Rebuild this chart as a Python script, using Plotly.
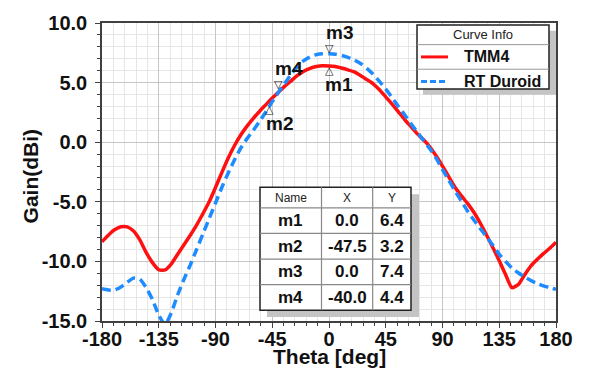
import plotly.graph_objects as go

# ---------------- data ----------------
theta = list(range(-180, 181, 5))

gain_tmm4 = [-8.35, -7.8, -7.35, -7.1, -7.1, -7.45, -8.2, -9.25, -10.1, -10.7,
             -10.72, -10.2, -9.4, -8.6, -7.8, -6.95, -6.0, -5.0, -3.8, -2.55,
             -1.35, -0.3, 0.6, 1.35, 2.0, 2.6, 3.15, 3.7, 4.2, 4.7,
             5.15, 5.6, 5.95, 6.2, 6.35, 6.42, 6.4, 6.35, 6.22, 6.07,
             5.9, 5.6, 5.25, 4.9, 4.4, 3.8, 3.2, 2.55, 1.9, 1.3,
             0.7, 0.2, -0.4, -1.15, -2.0, -2.9, -3.8, -4.5, -5.15, -5.9,
             -6.8, -7.8, -8.85, -9.95, -11.1, -12.2, -11.95, -11.15, -10.4, -9.85,
             -9.35, -8.9, -8.4]

gain_rt = [-12.3, -12.4, -12.4, -12.15, -11.75, -11.4, -11.5, -12.2, -13.2, -14.5,
           -15.3, -14.3, -12.8, -11.5, -10.3, -9.0, -7.7, -6.4, -5.1, -3.8,
           -2.6, -1.5, -0.5, 0.3, 1.0, 1.75, 2.55, 3.4, 4.2, 4.95,
           5.7, 6.35, 6.85, 7.15, 7.35, 7.42, 7.42, 7.38, 7.28, 7.12,
           6.9, 6.6, 6.2, 5.7, 5.1, 4.45, 3.75, 3.0, 2.3, 1.55,
           0.85, 0.15, -0.55, -1.35, -2.3, -3.2, -4.1, -4.95, -5.8, -6.55,
           -7.25, -7.95, -8.65, -9.4, -10.0, -10.55, -10.95, -11.3, -11.6, -11.85,
           -12.05, -12.2, -12.35]

series_names = ["TMM4", "RT Duroid"]
series_colors = ["#ff1010", "#1e8cff"]

marker_names = ["m1", "m2", "m3", "m4"]
marker_x = [0.0, -47.5, 0.0, -40.0]
marker_y = [6.4, 3.2, 7.4, 4.4]
marker_up = [True, True, False, False]   # triangle orientation / label placement

x_tickvals = [-180, -135, -90, -45, 0, 45, 90, 135, 180]
x_ticktext = ["-180", "-135", "-90", "-45", "0", "45", "90", "135", "180"]
y_tickvals = [-15, -10, -5, 0, 5, 10]
y_ticktext = ["-15.0", "-10.0", "-5.0", "0.0", "5.0", "10.0"]

table_header = ["Name", "X", "Y"]

# ---------------- layout helpers (pixel -> paper) ----------------
L, R, T, B = 102, 556, 18, 321
W, H = R - L, B - T


def px(x):
    return (x - L) / W


def py(y):
    return (B - y) / H


FONT = "Arial, 'Liberation Sans', sans-serif"


def note(x, y, text, size, bold=False, color="#111", xanchor="center", **kw):
    d = dict(x=x, y=y, xref=kw.pop("xref", "paper"), yref=kw.pop("yref", "paper"),
             showarrow=False, text=text, xanchor=xanchor, yanchor="middle",
             font=dict(family=kw.pop("family", FONT), size=size, color=color,
                       weight="bold" if bold else "normal"))
    d.update(kw)
    return d


fig = go.Figure()
fig.add_trace(go.Scatter(x=theta, y=gain_tmm4, name=series_names[0], mode="lines",
                         line=dict(color=series_colors[0], width=3.5, shape="spline", smoothing=0.6),
                         showlegend=False))
fig.add_trace(go.Scatter(x=theta, y=gain_rt, name=series_names[1], mode="lines",
                         line=dict(color=series_colors[1], width=3.5, dash="9px,5px",
                                   shape="spline", smoothing=0.6),
                         showlegend=False))

shapes = []
annotations = []

# marker triangles and labels
for n, mx, my, up in zip(marker_names, marker_x, marker_y, marker_up):
    annotations.append(note(mx, my, "△" if up else "▽", 11, color="#222", xref="x", yref="y",
                            family="DejaVu Sans", yshift=-5 if up else 5))
    annotations.append(note(mx, my, n, 19, bold=True, xref="x", yref="y",
                            xshift=10, yshift=-19 if up else 21))

# ---- legend box ("Curve Info") ----
shapes.append(dict(type="rect", xref="paper", yref="paper", x0=px(423), x1=px(556),
                   y0=py(91), y1=py(26), fillcolor="#c4c4c4", line=dict(width=0)))
shapes.append(dict(type="rect", xref="paper", yref="paper", x0=px(417), x1=px(549),
                   y0=py(85), y1=py(20), fillcolor="white", line=dict(color="#222", width=1.5)))
for yy in (40, 65):
    shapes.append(dict(type="line", xref="paper", yref="paper", x0=px(417), x1=px(549),
                       y0=py(yy), y1=py(yy), line=dict(color="#999", width=1)))
for i, yy in enumerate((52.5, 77.5)):
    shapes.append(dict(type="line", xref="paper", yref="paper", x0=px(421), x1=px(448),
                       y0=py(yy), y1=py(yy),
                       line=dict(color=series_colors[i], width=3,
                                 dash="solid" if i == 0 else "6px,3px")))
    annotations.append(note(px(462), py(yy), series_names[i], 16, bold=True, xanchor="left"))
annotations.append(note(px(483), py(30), "Curve Info", 13, color="#222"))

# ---- marker table ----
tx0, tx1 = 260, 411
cols = [260, 321.5, 372.7, 411]
rows = [185, 206, 232, 258, 284, 310]
shapes.append(dict(type="rect", xref="paper", yref="paper", x0=px(tx0 + 7), x1=px(tx1 + 8),
                   y0=py(rows[-1] + 7), y1=py(rows[0] + 7), fillcolor="#c4c4c4", line=dict(width=0)))
shapes.append(dict(type="rect", xref="paper", yref="paper", x0=px(tx0), x1=px(tx1),
                   y0=py(rows[-1]), y1=py(rows[0]), fillcolor="white",
                   line=dict(color="#222", width=1.5)))
for cx in cols[1:-1]:
    shapes.append(dict(type="line", xref="paper", yref="paper", x0=px(cx), x1=px(cx),
                       y0=py(rows[-1]), y1=py(rows[0]), line=dict(color="#888", width=1.2)))
for ry in rows[1:-1]:
    shapes.append(dict(type="line", xref="paper", yref="paper", x0=px(tx0), x1=px(tx1),
                       y0=py(ry), y1=py(ry), line=dict(color="#888", width=1.2)))
centers = [(cols[i] + cols[i + 1]) / 2 for i in range(3)]
for i, h in enumerate(table_header):
    annotations.append(note(px(centers[i]), py((rows[0] + rows[1]) / 2), h, 12, color="#222"))
for r, (n, mx, my) in enumerate(zip(marker_names, marker_x, marker_y)):
    yc = py((rows[r + 1] + rows[r + 2]) / 2)
    for i, t in enumerate([n, f"{mx:.1f}", f"{my:.1f}"]):
        annotations.append(note(px(centers[i]), yc, t, 17, bold=True))

# axis titles
annotations.append(note(0.5, py(357), "Theta [deg]", 21, bold=True))
annotations.append(note(px(30), py(174), "Gain(dBi)", 21, bold=True, textangle=-90))

axis_common = dict(showline=True, linecolor="#404040", linewidth=1.5, mirror=True,
                   showgrid=True, gridcolor="#c6c6c6", gridwidth=1, zeroline=False,
                   ticks="outside", ticklen=5, tickcolor="#404040",
                   tickfont=dict(family=FONT, size=20, color="#111", weight="bold"))

fig.update_layout(
    width=590, height=374,
    margin=dict(l=L, r=590 - R, t=T, b=374 - B),
    paper_bgcolor="white", plot_bgcolor="white",
    font=dict(family=FONT),
    showlegend=False,
    xaxis=dict(range=[-180, 180], tickmode="array", tickvals=x_tickvals, ticktext=x_ticktext,
               minor=dict(tickmode="linear", tick0=-180, dtick=9, showgrid=True,
                          gridcolor="#e6e6e6", ticks="outside", ticklen=3, tickcolor="#404040"),
               ticklabelstandoff=-6, **axis_common),
    yaxis=dict(range=[-15, 10], tickmode="array", tickvals=y_tickvals, ticktext=y_ticktext,
               minor=dict(tickmode="linear", tick0=-15, dtick=1, showgrid=True,
                          gridcolor="#e6e6e6", ticks="outside", ticklen=3, tickcolor="#404040"),
               ticklabelstandoff=4, **axis_common),
    shapes=shapes,
    annotations=annotations,
)

fig.write_html("out.html")
